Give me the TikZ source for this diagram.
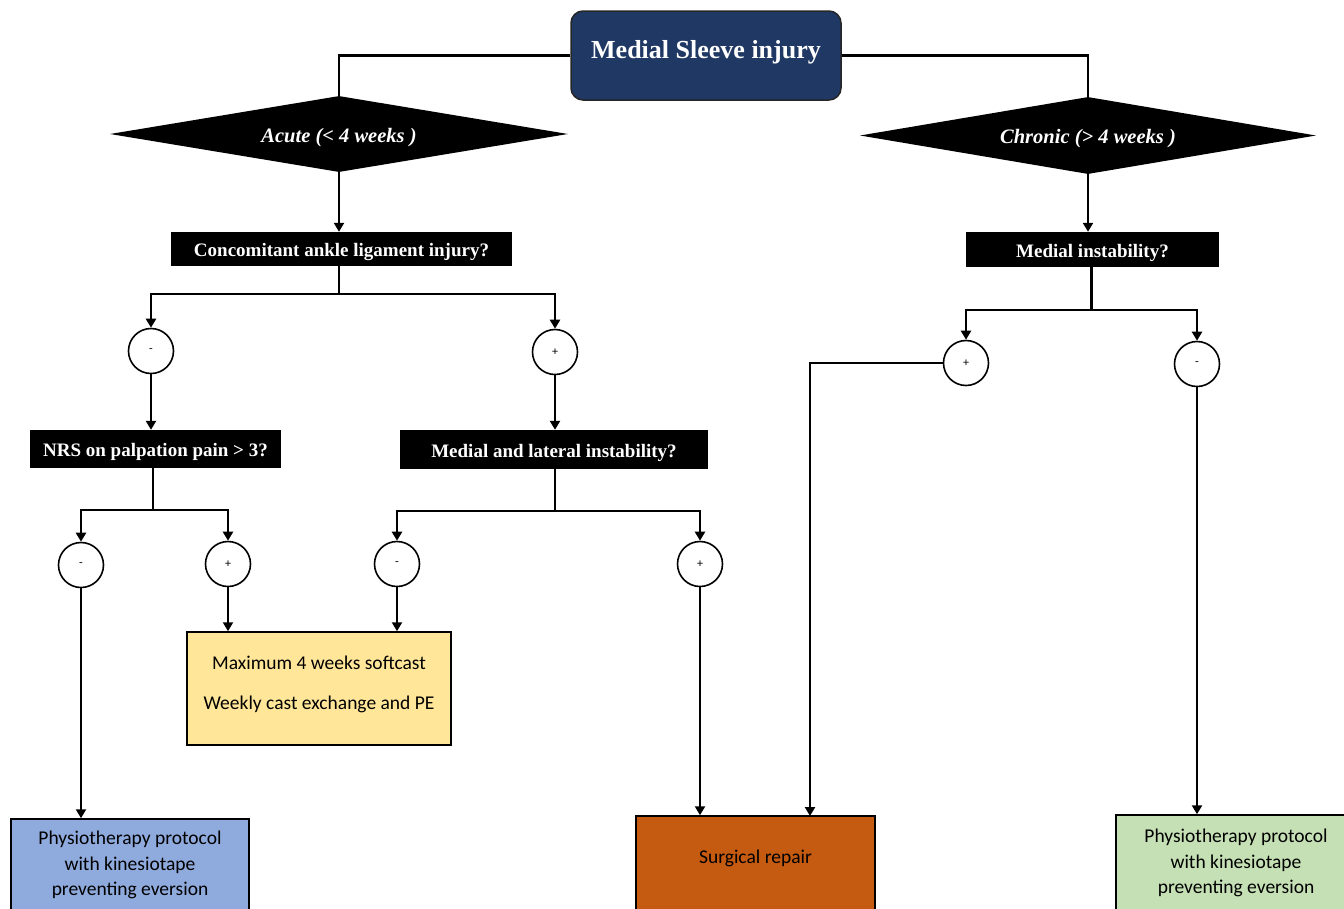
\documentclass[tikz,border=0pt]{standalone}
\usepackage{fontspec}
\setmainfont{Carlito}
\newfontfamily\cambria{Liberation Serif}
\usetikzlibrary{shapes.geometric,arrows.meta}
\definecolor{navy}{HTML}{203864}
\definecolor{bluebox}{HTML}{8FAADC}
\definecolor{yellowbox}{HTML}{FFE699}
\definecolor{orangebox}{HTML}{C55A11}
\definecolor{greenbox}{HTML}{C5E0B4}
\begin{document}
\begin{tikzpicture}[x=1pt,y=-1pt,
  conn/.style={line width=2.7pt},
  arr/.style={line width=2.7pt,-{Triangle[length=9pt,width=10pt]}},
  qbox/.style={fill=black,text=white,font=\cambria\fontsize{19}{22}\selectfont\bfseries,inner sep=0pt,text height=19pt,text depth=4pt},
  dia/.style={diamond,fill=black,text=white,inner sep=0pt,aspect=6,font=\cambria\fontsize{20.5}{24}\selectfont\bfseries\itshape,text height=20pt,text depth=4pt},
  sign/.style={circle,draw=black,line width=1.6pt,fill=white,minimum size=45pt,inner sep=0pt,font=\fontsize{12}{14}\selectfont},
  outbox/.style={draw=black,line width=1.5pt,inner sep=0pt,align=center,font=\fontsize{19.5}{25.5}\selectfont},
]
\useasboundingbox (0,0) rectangle (1344,908);
\clip (0,0) rectangle (1344,908);

% top
\node[draw=black!85,fill=navy,rounded corners=12pt,line width=1.5pt,minimum width=270pt,minimum height=89pt,
  text=white,font=\cambria\fontsize{26}{30}\selectfont\bfseries,text depth=13pt] (top) at (706,55.5) {Medial Sleeve injury};

% diamonds
\node[dia,minimum width=458pt,minimum height=76pt] (acute) at (339,134) {Acute (< 4 weeks )};
\node[dia,minimum width=456pt,minimum height=77pt] (chronic) at (1088,135.5) {Chronic (> 4 weeks )};

% questions
\node[qbox,minimum width=341pt,minimum height=34pt] (q1) at (341.5,249) {Concomitant ankle ligament injury?};
\node[qbox,minimum width=251pt,minimum height=38pt] (q2) at (155.5,449) {NRS on palpation pain > 3?};
\node[qbox,minimum width=308pt,minimum height=39pt] (q3) at (554,449.5) {Medial and lateral instability?};
\node[qbox,minimum width=253pt,minimum height=35pt] (q4) at (1092.5,249.5) {Medial instability?};

% signs
\node[sign] (cm1) at (151,351) {-};
\node[sign] (cp1) at (555,352) {+};
\node[sign] (cm2) at (81,565) {-};
\node[sign] (cp2) at (228,564) {+};
\node[sign] (cm3) at (397,564) {-};
\node[sign] (cp3) at (700,564) {+};
\node[sign] (cp4) at (966,363) {+};
\node[sign] (cm4) at (1197,364) {-};

% outcomes
\node[outbox,fill=yellowbox,minimum width=264pt,minimum height=113pt] (cast) at (319,688.5)
  {\raisebox{4pt}[\height][\depth]{\begin{tabular}{@{}c@{}}Maximum 4 weeks softcast\\[14.5pt]Weekly cast exchange and PE\end{tabular}}};
\node[outbox,fill=bluebox,minimum width=238pt,minimum height=92pt] (physA) at (130,865)
  {Physiotherapy protocol\\with kinesiotape\\preventing eversion};
\node[outbox,fill=orangebox,minimum width=239pt,minimum height=96pt,text depth=15pt] (surg) at (755.5,864) {Surgical repair};
\node[outbox,fill=greenbox,minimum width=240pt,minimum height=96pt] (physB) at (1236,863)
  {Physiotherapy protocol\\with kinesiotape\\preventing eversion};

% junctions
\coordinate (j1) at (339,294);
\coordinate (j2) at (153,510);
\coordinate (j3) at (555,511);
\coordinate (j4) at (1091.5,310);
\coordinate (sIn) at (810,816);

% connectors
\draw[conn] (top.west) -| (acute.north);
\draw[conn] (top.east) -| (chronic.north);
\draw[arr] (acute.south) -- (acute.south |- q1.north);
\draw[conn] (j1 |- q1.south) -- (j1);
\draw[arr] (j1) -| (cm1.north);
\draw[arr] (j1) -| (cp1.north);
\draw[arr] (cm1.south) -- (cm1.south |- q2.north);
\draw[arr] (cp1.south) -- (cp1.south |- q3.north);
\draw[conn] (j2 |- q2.south) -- (j2);
\draw[arr] (j2) -| (cm2.north);
\draw[arr] (j2) -| (cp2.north);
\draw[conn] (j3 |- q3.south) -- (j3);
\draw[arr] (j3) -| (cm3.north);
\draw[arr] (j3) -| (cp3.north);
\draw[arr] (cm2.south) -- (cm2.south |- physA.north);
\draw[arr] (cp2.south) -- (cp2.south |- cast.north);
\draw[arr] (cm3.south) -- (cm3.south |- cast.north);
\draw[arr] (cp3.south) -- (cp3.south |- surg.north);
\draw[arr] (chronic.south) -- (chronic.south |- q4.north);
\draw[conn] (j4 |- q4.south) -- (j4);
\draw[arr] (j4) -| (cp4.north);
\draw[arr] (j4) -| (cm4.north);
\draw[arr] (cp4.west) -| (sIn);
\draw[arr] (cm4.south) -- (cm4.south |- physB.north);
\end{tikzpicture}
\end{document}
